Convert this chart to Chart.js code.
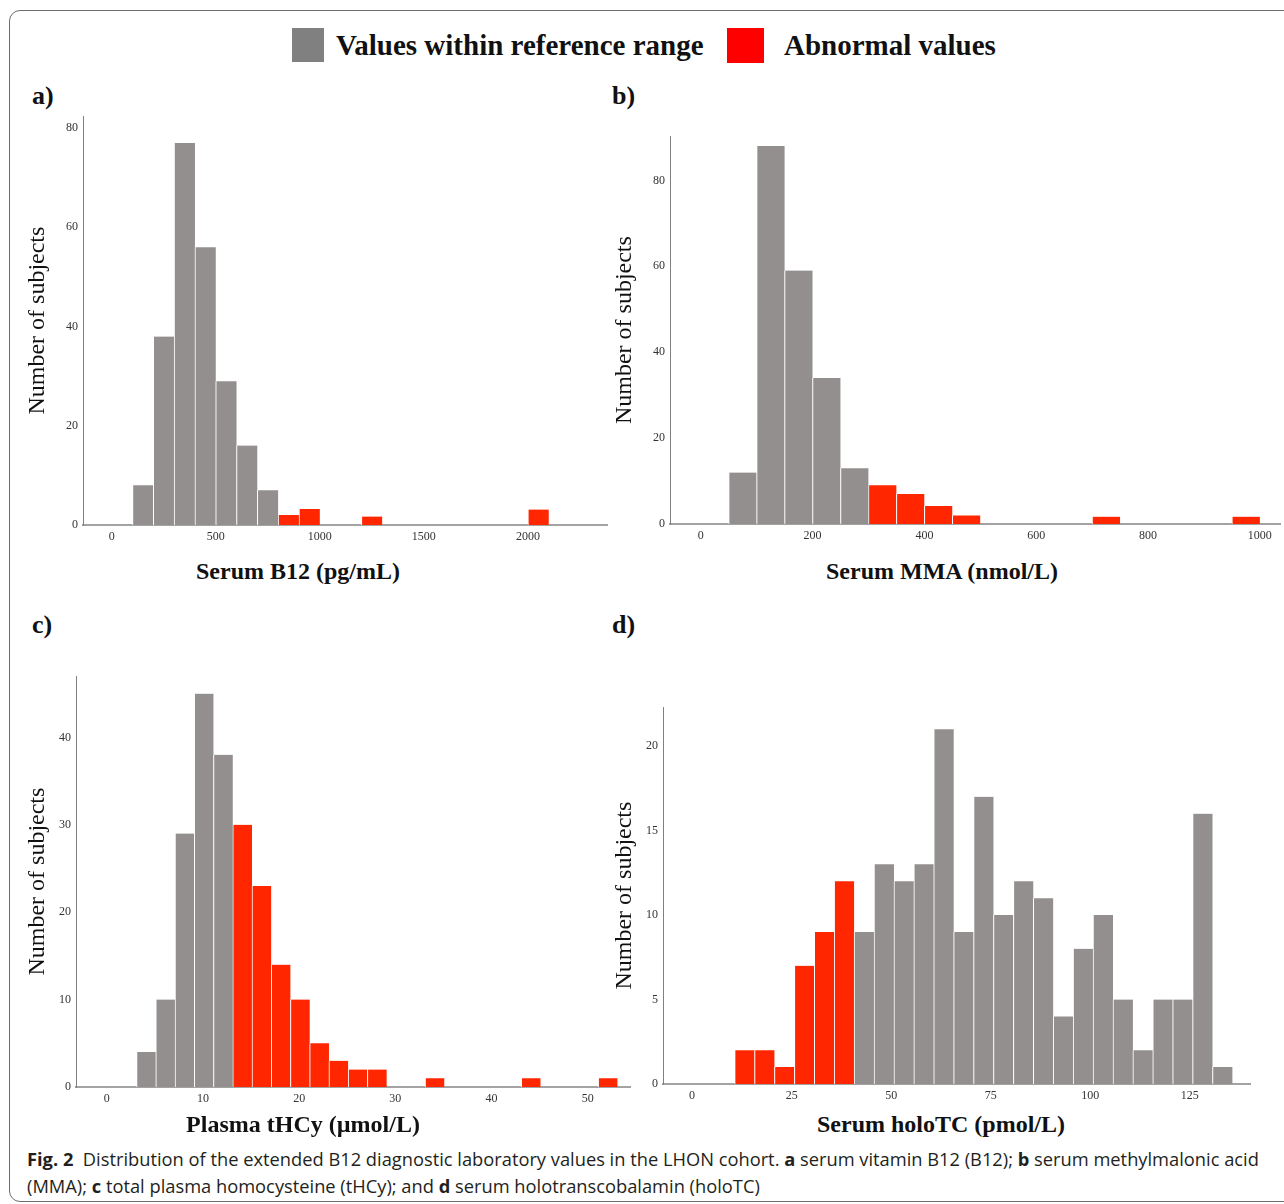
<!DOCTYPE html>
<html>
<head>
<meta charset="utf-8">
<script src="https://cdn.jsdelivr.net/npm/chart.js@4.4.1/dist/chart.umd.min.js"></script>
<style>
  body { margin: 0; width: 1284px; height: 1204px; background: #fff; overflow: hidden; position: relative; }
  .frame { position: absolute; left: 9px; top: 10px; width: 1300px; height: 1190px; border: 1.5px solid #6e6e6e; border-radius: 11px; }
  .box { position: absolute; }
  .serif { font-family: "Liberation Serif", "Times New Roman", serif; color: #111; }
  .swatch { position: absolute; }
  .letter { position: absolute; font: bold 26px "Liberation Serif", serif; line-height: 26px; color: #111; }
  .xtitle { position: absolute; font: bold 24px "Liberation Serif", serif; color: #111; transform: translate(-50%, -50%); white-space: nowrap; }
  .caption { position: absolute; left: 27px; top: 1145px; font: 18.3px "Open Sans", sans-serif; line-height: 27px; color: #231f20; white-space: nowrap; }
</style>
</head>
<body>
<div class="frame"></div>

<div class="swatch" style="left:292px;top:28px;width:32px;height:34px;background:#808080"></div>
<div class="box serif" style="left:336px;top:28px;font-weight:bold;font-size:29px;line-height:34px">Values within reference range</div>
<div class="swatch" style="left:727px;top:28px;width:37px;height:35px;background:#ff0000"></div>
<div class="box serif" style="left:784px;top:28px;font-weight:bold;font-size:29px;line-height:34px">Abnormal values</div>

<div class="letter" style="left:32px;top:83px">a)</div>
<div class="letter" style="left:612px;top:83px">b)</div>
<div class="letter" style="left:32px;top:612px">c)</div>
<div class="letter" style="left:612px;top:612px">d)</div>

<div class="box" style="left:23px;top:104px;width:588px;height:446px"><canvas id="chartA"></canvas></div>
<div class="box" style="left:610px;top:124px;width:674px;height:425px"><canvas id="chartB"></canvas></div>
<div class="box" style="left:23px;top:664px;width:611px;height:448px"><canvas id="chartC"></canvas></div>
<div class="box" style="left:610px;top:695px;width:644px;height:414px"><canvas id="chartD"></canvas></div>

<div class="xtitle" style="left:298px;top:571px">Serum B12 (pg/mL)</div>
<div class="xtitle" style="left:942px;top:571px">Serum MMA (nmol/L)</div>
<div class="xtitle" style="left:303px;top:1124px">Plasma tHCy (µmol/L)</div>
<div class="xtitle" style="left:941px;top:1124px">Serum holoTC (pmol/L)</div>

<div class="caption"><b>Fig. 2</b>&nbsp; Distribution of the extended B12 diagnostic laboratory values in the LHON cohort. <b>a</b> serum vitamin B12 (B12); <b>b</b> serum methylmalonic acid<br>(MMA); <b>c</b> total plasma homocysteine (tHCy); and <b>d</b> serum holotranscobalamin (holoTC)</div>

<script>
// a) serum B12, bins of 100 pg/mL (bin centres)
const b12NormalBins = [150, 250, 350, 450, 550, 650, 750];
const b12NormalCounts = [8, 38, 77, 56, 29, 16, 7];
const b12AbnormalBins = [850, 950, 1250, 2050];
const b12AbnormalCounts = [2, 3.2, 1.7, 3.1];
const b12XTicks = [0, 500, 1000, 1500, 2000];
const b12YTicks = [0, 20, 40, 60, 80];

// b) serum MMA, bins of 50 nmol/L
const mmaNormalBins = [75, 125, 175, 225, 275];
const mmaNormalCounts = [12, 88, 59, 34, 13];
const mmaAbnormalBins = [325, 375, 425, 475, 725, 975];
const mmaAbnormalCounts = [9, 7, 4.2, 2, 1.7, 1.7];
const mmaXTicks = [0, 200, 400, 600, 800, 1000];
const mmaYTicks = [0, 20, 40, 60, 80];

// c) plasma tHCy, bins of 2 µmol/L
const hcyNormalBins = [4.1, 6.1, 8.1, 10.1, 12.1];
const hcyNormalCounts = [4, 10, 29, 45, 38];
const hcyAbnormalBins = [14.1, 16.1, 18.1, 20.1, 22.1, 24.1, 26.1, 28.1, 34.1, 44.1, 52.1];
const hcyAbnormalCounts = [30, 23, 14, 10, 5, 3, 2, 2, 1, 1, 1];
const hcyXTicks = [0, 10, 20, 30, 40, 50];
const hcyYTicks = [0, 10, 20, 30, 40];

// d) serum holoTC, bins of 5 pmol/L
const holoNormalBins = [43.2, 48.2, 53.2, 58.2, 63.2, 68.2, 73.2, 78.2, 83.2, 88.2, 93.2, 98.2, 103.2, 108.2, 113.2, 118.2, 123.2, 128.2, 133.2];
const holoNormalCounts = [9, 13, 12, 13, 21, 9, 17, 10, 12, 11, 4, 8, 10, 5, 2, 5, 5, 16, 1];
const holoAbnormalBins = [13.2, 18.2, 23.2, 28.2, 33.2, 38.2];
const holoAbnormalCounts = [2, 2, 1, 7, 9, 12];
const holoXTicks = [0, 25, 50, 75, 100, 125];
const holoYTicks = [0, 5, 10, 15, 20];

const GRAY = '#948f8f';
const RED = '#ff2600';
const tickFont = { family: 'Liberation Serif', size: 12 };

function points(xs, ys) {
    return xs.map((x, i) => ({ x: x, y: ys[i] }));
}

function makeHistogram(id, cfg) {
    const ctx = document.getElementById(id).getContext('2d');
    return new Chart(ctx, {
        type: 'bar',
        data: {
            datasets: [
                { label: 'Values within reference range', data: points(cfg.normalX, cfg.normalY), backgroundColor: GRAY },
                { label: 'Abnormal values', data: points(cfg.abnormalX, cfg.abnormalY), backgroundColor: RED }
            ]
        },
        options: {
            responsive: true,
            maintainAspectRatio: false,
            animation: false,
            layout: { padding: { top: 8, right: 4, left: 0, bottom: 0 } },
            datasets: {
                bar: {
                    grouped: false,
                    categoryPercentage: 1,
                    barPercentage: 1,
                    borderColor: '#ffffff',
                    borderWidth: { left: 1, right: 0, top: 0, bottom: 0 },
                    borderSkipped: false
                }
            },
            plugins: { legend: { display: false }, tooltip: { enabled: false } },
            scales: {
                x: {
                    type: 'linear',
                    offset: false,
                    min: cfg.xMin,
                    max: cfg.xMax,
                    afterBuildTicks: s => { s.ticks = cfg.xTicks.map(v => ({ value: v })); },
                    afterFit: s => { s.height = 25; },
                    grid: { display: false, drawTicks: false },
                    border: { color: '#a3a3a3', width: 2 },
                    ticks: { font: tickFont, color: '#333', padding: 5, maxRotation: 0, autoSkip: false, callback: v => String(v) }
                },
                y: {
                    min: 0,
                    max: cfg.yMax,
                    afterBuildTicks: s => { s.ticks = cfg.yTicks.map(v => ({ value: v })); },
                    afterFit: s => { s.width = cfg.yWidth; },
                    grid: { display: false, drawTicks: false },
                    border: { color: '#808080', width: 1 },
                    ticks: { font: tickFont, color: '#333', padding: 5, callback: v => String(v) },
                    title: {
                        display: true,
                        text: 'Number of subjects',
                        font: { family: 'Liberation Serif', size: 24 },
                        color: '#111',
                        padding: { top: 0, bottom: 0 }
                    }
                }
            }
        }
    });
}

makeHistogram('chartA', {
    normalX: b12NormalBins, normalY: b12NormalCounts,
    abnormalX: b12AbnormalBins, abnormalY: b12AbnormalCounts,
    xTicks: b12XTicks, yTicks: b12YTicks,
    xMin: -138, xMax: 2380, yMax: 82.4, yWidth: 60
});

makeHistogram('chartB', {
    normalX: mmaNormalBins, normalY: mmaNormalCounts,
    abnormalX: mmaAbnormalBins, abnormalY: mmaAbnormalCounts,
    xTicks: mmaXTicks, yTicks: mmaYTicks,
    xMin: -55, xMax: 1036, yMax: 90.3, yWidth: 60
});

makeHistogram('chartC', {
    normalX: hcyNormalBins, normalY: hcyNormalCounts,
    abnormalX: hcyAbnormalBins, abnormalY: hcyAbnormalCounts,
    xTicks: hcyXTicks, yTicks: hcyYTicks,
    xMin: -3.2, xMax: 54.4, yMax: 47, yWidth: 53
});

makeHistogram('chartD', {
    normalX: holoNormalBins, normalY: holoNormalCounts,
    abnormalX: holoAbnormalBins, abnormalY: holoAbnormalCounts,
    xTicks: holoXTicks, yTicks: holoYTicks,
    xMin: -7.3, xMax: 140.1, yMax: 22.3, yWidth: 53
});
</script>
</body>
</html>
